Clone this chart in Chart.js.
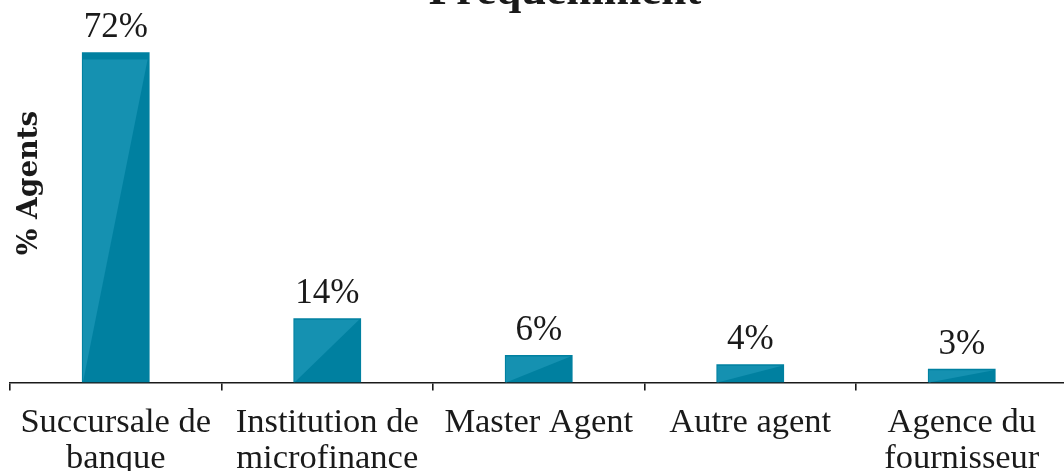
<!DOCTYPE html>
<html>
<head>
<meta charset="utf-8">
<script src="https://cdn.jsdelivr.net/npm/chart.js@4"></script>
<style>
  html, body { margin: 0; padding: 0; background: #fff; overflow: hidden; }
  #wrap { position: absolute; left: 0; top: -60px; }
</style>
</head>
<body>
<div id="wrap"><canvas id="chart" width="1070" height="551"></canvas></div>
<script>
const categories = [
  ['Succursale de', 'banque'],
  ['Institution de', 'microfinance'],
  ['Master Agent'],
  ['Autre agent'],
  ['Agence du', 'fournisseur']
];
const values = [72, 14, 6, 4, 3];
const valueLabels = ['72%', '14%', '6%', '4%', '3%'];
const chartTitle = 'Fréquemment';

const serif = "'Liberation Serif', 'Times New Roman', serif";
const textColor = '#1a1a1a';
const barDark = '#0080a0';
const barLight = '#1591b1';

// light diagonal shading on top of each bar
const barShade = {
  id: 'barShade',
  afterDatasetsDraw(chart) {
    const ctx = chart.ctx;
    chart.getDatasetMeta(0).data.forEach(bar => {
      const p = bar.getProps(['x', 'y', 'base', 'width'], true);
      const left = p.x - p.width / 2, right = p.x + p.width / 2;
      const band = Math.max(1.5, (p.base - p.y) * 0.022);
      ctx.save();
      ctx.fillStyle = barLight;
      ctx.beginPath();
      ctx.moveTo(left + 1, p.y + band);
      ctx.lineTo(right - 2, p.y + band);
      ctx.lineTo(left + 1, p.base);
      ctx.closePath();
      ctx.fill();
      ctx.restore();
    });
  }
};

// value labels above the bars + title (cut off at the top, as in the source)
const textLayer = {
  id: 'textLayer',
  afterDraw(chart) {
    const ctx = chart.ctx;
    ctx.save();
    ctx.fillStyle = textColor;
    ctx.textAlign = 'center';
    ctx.textBaseline = 'alphabetic';
    ctx.font = '35px ' + serif;
    chart.getDatasetMeta(0).data.forEach((bar, i) => {
      ctx.fillText(valueLabels[i], bar.x, bar.y - 15);
    });
    ctx.font = 'bold 45px ' + serif;
    ctx.fillText(chartTitle, 565, 64);
    ctx.restore();
  }
};

new Chart(document.getElementById('chart'), {
  type: 'bar',
  data: {
    labels: categories,
    datasets: [{
      data: values,
      backgroundColor: barDark,
      borderWidth: 0,
      barPercentage: 0.32,
      categoryPercentage: 1
    }]
  },
  options: {
    responsive: false,
    devicePixelRatio: 1,
    animation: false,
    layout: { padding: { left: 0, right: 2.5, top: 43.4, bottom: 0 } },
    plugins: {
      legend: { display: false },
      tooltip: { enabled: false },
      title: { display: false }
    },
    scales: {
      x: {
        offset: true,
        border: { display: true, color: '#1a1a1a', width: 1.6 },
        grid: { display: true, drawOnChartArea: false, drawTicks: true, tickLength: 8, color: '#1a1a1a', lineWidth: 1.6, offset: true },
        ticks: {
          color: textColor,
          font: { family: serif, size: 34.5, lineHeight: 1.05 },
          padding: 14,
          maxRotation: 0,
          autoSkip: false
        }
      },
      y: {
        min: 0,
        max: 87,
        border: { display: false },
        grid: { display: false, drawTicks: false },
        ticks: { display: false },
        title: {
          display: true,
          text: '% Agents',
          color: textColor,
          font: { family: "'DejaVu Serif', serif", size: 28, weight: 'bold', lineHeight: 1.2 },
          padding: { top: 13.2, bottom: -36.8 }
        }
      }
    }
  },
  plugins: [barShade, textLayer]
});
</script>
</body>
</html>
